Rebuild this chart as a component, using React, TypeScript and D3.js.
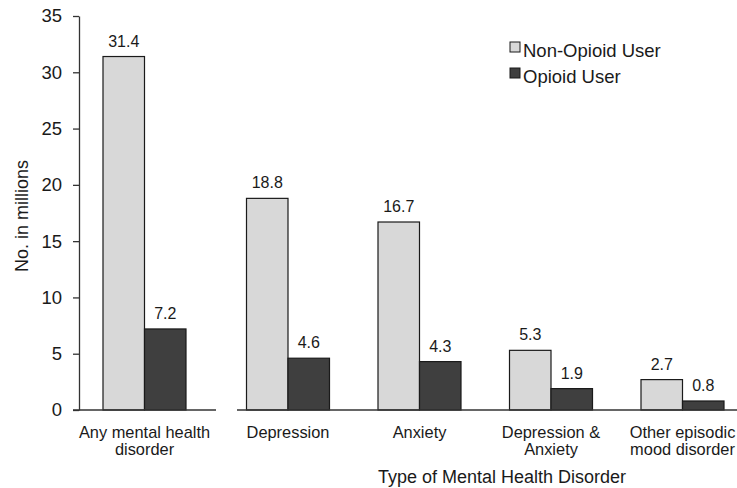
import { useEffect, useRef } from 'react'
import * as d3 from 'd3'

// chart data
const categories = ["Any mental health disorder", "Depression", "Anxiety", "Depression & Anxiety", "Other episodic mood disorder"]
const categoryLines = [["Any mental health", "disorder"], ["Depression"], ["Anxiety"], ["Depression &", "Anxiety"], ["Other episodic", "mood disorder"]]
const series = ["Non-Opioid User", "Opioid User"]
const nonOpioid = [31.4, 18.8, 16.7, 5.3, 2.7]
const opioid = [7.2, 4.6, 4.3, 1.9, 0.8]
const yTicks = [0, 5, 10, 15, 20, 25, 30, 35]

const COLORS = ["#d8d8d8", "#3f3f3f"]
const FONT = "'Liberation Sans', Arial, sans-serif"
const TEXT = "#1a1a1a"

export default function App() {
  const svgRef = useRef<SVGSVGElement>(null)
  const width = 737
  const height = 488

  useEffect(() => {
    if (!svgRef.current) return
    const svg = d3.select(svgRef.current)
    svg.selectAll("*").remove()

    const y = d3.scaleLinear().domain([0, 35]).range([410, 16])

    // first category sits apart from the others (broken axis)
    const xFirst = d3.scaleBand().domain([categories[0]]).range([73, 216])
    const xRest = d3.scaleBand().domain(categories.slice(1)).range([222.25, 748.25])
    const groupCenter = (c: string) =>
      c === categories[0] ? (xFirst(c) || 0) + xFirst.bandwidth() / 2 : (xRest(c) || 0) + xRest.bandwidth() / 2
    const pairWidth = 83
    const xInner = d3.scaleBand().domain(series).range([0, pairWidth])

    // y axis
    const yAxis = d3.axisLeft(y).tickValues(yTicks).tickSize(6).tickSizeOuter(0).tickPadding(11)
    const gy = svg.append("g").attr("transform", "translate(79,0)").call(yAxis)
    gy.select(".domain").attr("stroke", "#333").attr("stroke-width", 1.3)
    gy.selectAll(".tick line").attr("stroke", "#333").attr("stroke-width", 1.3)
    gy.selectAll(".tick text")
      .attr("font-family", FONT)
      .attr("font-size", "18.5px")
      .attr("fill", TEXT)

    // y title
    svg.append("text")
      .attr("transform", `translate(28, ${(y(0) + y(35)) / 2 + 3}) rotate(-90)`)
      .attr("text-anchor", "middle")
      .attr("font-family", FONT)
      .attr("font-size", "18px")
      .attr("fill", TEXT)
      .text("No. in millions")

    // bars
    const rows = categories.map((c, i) => ({ cat: c, values: [nonOpioid[i], opioid[i]] }))
    const groups = svg.selectAll(".group")
      .data(rows)
      .join("g")
      .attr("class", "group")
      .attr("transform", d => `translate(${groupCenter(d.cat) - pairWidth / 2}, 0)`)

    groups.selectAll("rect")
      .data(d => d.values.map((v, j) => ({ key: series[j], v, j })))
      .join("rect")
      .attr("x", d => xInner(d.key) || 0)
      .attr("y", d => y(d.v))
      .attr("width", xInner.bandwidth())
      .attr("height", d => y(0) - y(d.v))
      .attr("fill", d => COLORS[d.j])
      .attr("stroke", "#1a1a1a")
      .attr("stroke-width", 1.2)

    groups.selectAll("text.val")
      .data(d => d.values.map((v, j) => ({ key: series[j], v, j })))
      .join("text")
      .attr("class", "val")
      .attr("x", d => (xInner(d.key) || 0) + xInner.bandwidth() / 2)
      .attr("y", d => y(d.v) - 10)
      .attr("text-anchor", "middle")
      .attr("font-family", FONT)
      .attr("font-size", "16px")
      .attr("fill", TEXT)
      .text(d => d.v.toFixed(1))

    // baseline (broken after first group)
    const base = [[73, 216], [237, 737]]
    svg.selectAll(".baseline")
      .data(base)
      .join("line")
      .attr("class", "baseline")
      .attr("x1", d => d[0])
      .attr("x2", d => d[1])
      .attr("y1", y(0))
      .attr("y2", y(0))
      .attr("stroke", "#333")
      .attr("stroke-width", 1.3)

    // category labels
    const labels = svg.selectAll(".cat")
      .data(categories)
      .join("text")
      .attr("class", "cat")
      .attr("text-anchor", "middle")
      .attr("font-family", FONT)
      .attr("font-size", "16.4px")
      .attr("fill", TEXT)
    labels.each(function (c, i) {
      d3.select(this).selectAll("tspan")
        .data(categoryLines[i])
        .join("tspan")
        .attr("x", groupCenter(c))
        .attr("y", (_, k) => 437.5 + k * 17.5)
        .text(t => t)
    })

    // x title
    svg.append("text")
      .attr("x", 502)
      .attr("y", 483)
      .attr("text-anchor", "middle")
      .attr("font-family", FONT)
      .attr("font-size", "18px")
      .attr("fill", TEXT)
      .text("Type of Mental Health Disorder")

    // legend
    const legend = svg.append("g").attr("transform", "translate(510, 42)")
    series.forEach((s, i) => {
      legend.append("rect")
        .attr("x", 0)
        .attr("y", i * 26)
        .attr("width", 10)
        .attr("height", 10)
        .attr("fill", COLORS[i])
        .attr("stroke", "#1a1a1a")
        .attr("stroke-width", 1)
      legend.append("text")
        .attr("x", 13)
        .attr("y", i * 26 + 14.5)
        .attr("font-family", FONT)
        .attr("font-size", "18.5px")
        .attr("fill", TEXT)
        .text(s)
    })
  }, [])

  return (
    <svg
      ref={svgRef}
      width={width}
      height={height}
      viewBox={`0 0 ${width} ${height}`}
      style={{ position: 'absolute', left: 0, top: 0, background: '#fff' }}
    />
  )
}
